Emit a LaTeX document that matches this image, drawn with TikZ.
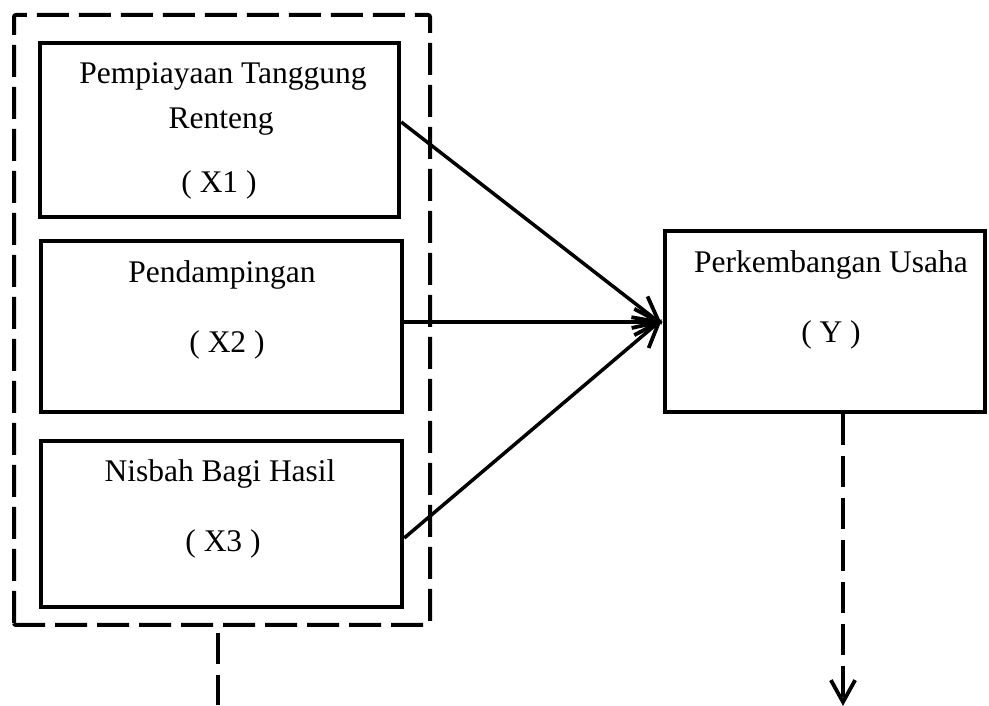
\documentclass[tikz,border=0pt]{standalone}
\usepackage{fontspec}
\setmainfont{Liberation Serif}
\usetikzlibrary{calc}
\begin{document}
\begin{tikzpicture}[x=1pt,y=1pt,
  varbox/.style={draw,line width=4.5pt,inner sep=0pt},
  lbl/.style={font=\fontsize{31.5}{38}\selectfont,inner sep=0pt,anchor=base},
  grp/.style={draw,line width=4pt,dash pattern=on 32pt off 10pt,rounded corners=2pt},
  conn/.style={line width=3.5pt},
  barb/.style={line width=3.8pt,line join=miter},
  dconn/.style={line width=4pt,dash pattern=on 31pt off 11pt},
]
\useasboundingbox (0,0) rectangle (989,705);
% group
\draw[grp] (14,80) rectangle (430,690);
% boxes (y = 705 - pixel y)
\node[varbox,minimum width=359pt,minimum height=174pt] (x1) at (219.5,575) {};
\node[varbox,minimum width=361pt,minimum height=171pt] (x2) at (221.5,378.5) {};
\node[varbox,minimum width=361pt,minimum height=166pt] (x3) at (221.5,181) {};
\node[varbox,minimum width=320pt,minimum height=181pt] (y) at (825,383.5) {};
% labels
\node[lbl] (t1a) at (223,621) {Pempiayaan Tanggung};
\node[lbl] (t1b) at (221,576) {Renteng};
\node[lbl] (t1c) at (219,512) {( X1 )};
\node[lbl] (t2a) at (222,422) {Pendampingan};
\node[lbl] (t2b) at (227,352) {( X2 )};
\node[lbl] (t3a) at (220,223) {Nisbah Bagi Hasil};
\node[lbl] (t3b) at (223,153) {( X3 )};
\node[lbl] (tya) at (831,432) {Perkembangan Usaha};
\node[lbl] (tyb) at (831,362) {( Y )};
% connectors
\coordinate (tip) at (659,383);
\coordinate (s1) at (x1.east|-0,583);
\coordinate (s2) at (x2.east|-tip);
\coordinate (s3) at (x3.east|-0,167);
\foreach \s in {s1,s2,s3}{
  \draw[conn] (\s) -- (tip);
  \draw[barb] ($(tip)!28pt!28:(\s)$) -- (tip) -- ($(tip)!28pt!-28:(\s)$);
}
% dashed out-lines
\coordinate (gb) at (218,72);
\coordinate (ge) at (218,0);
\draw[dconn] (gb) -- (ge);
\coordinate (yb) at (y.south-|843,0);
\coordinate (ye) at (843,3);
\draw[dconn] (yb) -- ($(ye)+(0,2)$);
\draw[barb] ($(ye)!25pt!29:(yb)$) -- (ye) -- ($(ye)!25pt!-29:(yb)$);
\end{tikzpicture}
\end{document}
